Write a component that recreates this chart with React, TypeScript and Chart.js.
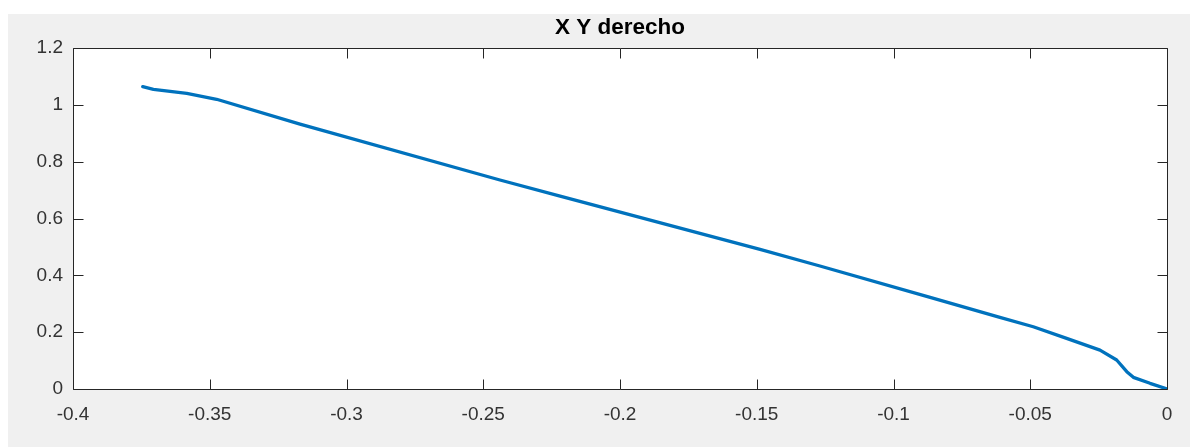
import React, { useEffect, useRef } from "react";
import { Chart, registerables } from "chart.js";

Chart.register(...registerables);

// ---- data ----
const xValues = [
  -0.3745, -0.3706, -0.3584, -0.3475, -0.317, -0.2439, -0.2219, -0.1488, -0.1269,
  -0.0866, -0.0611, -0.0489, -0.0367, -0.0245, -0.0184, -0.0147, -0.0123, -0.0062,
  -0.0007, 0,
];
const yValues = [
  1.064, 1.0547, 1.04, 1.0195, 0.932, 0.7355, 0.679, 0.4916, 0.4328,
  0.3227, 0.2523, 0.219, 0.178, 0.137, 0.102, 0.061, 0.041, 0.02,
  0.0025, 0,
];
const xTickValues = [-0.4, -0.35, -0.3, -0.25, -0.2, -0.15, -0.1, -0.05, 0];
const xTickLabels = ["-0.4", "-0.35", "-0.3", "-0.25", "-0.2", "-0.15", "-0.1", "-0.05", "0"];
const yTickValues = [0, 0.2, 0.4, 0.6, 0.8, 1, 1.2];
const yTickLabels = ["0", "0.2", "0.4", "0.6", "0.8", "1", "1.2"];
const chartTitle = "X Y derecho";

const FONT = "'Liberation Sans', Arial, Helvetica, sans-serif";
const AXIS_COLOR = "#262626";
const LABEL_COLOR = "#333333";
const LINE_COLOR = "#0072BD";
const TICK_LEN = 10;

const matlabAxes = {
  id: "matlabAxes",
  beforeDraw(chart: any) {
    const { ctx, chartArea } = chart;
    const { left, top, right, bottom } = chartArea;
    ctx.save();
    ctx.fillStyle = "#ffffff";
    ctx.fillRect(left, top, right - left, bottom - top);
    ctx.restore();
  },
  beforeDatasetsDraw(chart: any) {
    const { ctx, chartArea, scales } = chart;
    const l = Math.round(chartArea.left) + 0.5;
    const r = Math.round(chartArea.right) + 0.5;
    const t = Math.round(chartArea.top) + 0.5;
    const b = Math.round(chartArea.bottom) + 0.5;
    ctx.save();
    ctx.strokeStyle = AXIS_COLOR;
    ctx.lineWidth = 1;
    ctx.beginPath();
    ctx.rect(l, t, r - l, b - t);
    for (const v of xTickValues) {
      const px = Math.round(scales.x.getPixelForValue(v)) + 0.5;
      ctx.moveTo(px, b);
      ctx.lineTo(px, b - TICK_LEN);
      ctx.moveTo(px, t);
      ctx.lineTo(px, t + TICK_LEN);
    }
    for (const v of yTickValues) {
      const py = Math.round(scales.y.getPixelForValue(v)) + 0.5;
      ctx.moveTo(l, py);
      ctx.lineTo(l + TICK_LEN, py);
      ctx.moveTo(r, py);
      ctx.lineTo(r - TICK_LEN, py);
    }
    ctx.stroke();
    ctx.restore();
  },
};

export default function App() {
  const canvasRef = useRef<HTMLCanvasElement | null>(null);

  useEffect(() => {
    document.documentElement.style.overflow = "hidden";
    document.body.style.overflow = "hidden";
    const canvas = canvasRef.current;
    if (!canvas) return;
    const points = xValues.map((x, i) => ({ x, y: yValues[i] }));
    const chart = new Chart(canvas, {
      type: "line",
      data: {
        datasets: [
          {
            data: points,
            borderColor: LINE_COLOR,
            backgroundColor: LINE_COLOR,
            borderWidth: 3.3,
            pointRadius: 0,
            tension: 0,
            borderJoinStyle: "round",
            borderCapStyle: "round",
            fill: false,
          },
        ],
      },
      options: {
        animation: false,
        responsive: false,
        devicePixelRatio: 1,
        layout: { padding: { left: 0, right: 31, top: 0, bottom: 0 } },
        plugins: {
          legend: { display: false },
          tooltip: { enabled: false },
          title: {
            display: true,
            text: chartTitle,
            fullSize: false,
            color: "#000000",
            font: { family: FONT, size: 22.5, weight: "bold" },
            padding: { top: 0.5, bottom: 6.5 },
          },
        },
        scales: {
          x: {
            type: "linear",
            min: -0.4,
            max: 0,
            grid: { display: false, drawTicks: false },
            border: { display: false },
            afterBuildTicks: (s: any) => {
              s.ticks = xTickValues.map((v) => ({ value: v }));
            },
            afterFit: (s: any) => {
              s.height = 58;
            },
            ticks: {
              autoSkip: false,
              maxRotation: 0,
              padding: 14,
              color: LABEL_COLOR,
              font: { family: FONT, size: 19 },
              callback: (_v: any, i: number) => xTickLabels[i],
            },
          },
          y: {
            type: "linear",
            min: 0,
            max: 1.2,
            grid: { display: false, drawTicks: false },
            border: { display: false },
            afterBuildTicks: (s: any) => {
              s.ticks = yTickValues.map((v) => ({ value: v }));
            },
            afterFit: (s: any) => {
              s.width = 65;
            },
            ticks: {
              autoSkip: false,
              padding: 10,
              color: LABEL_COLOR,
              font: { family: FONT, size: 19 },
              callback: (_v: any, i: number) => yTickLabels[i],
            },
          },
        },
      },
      plugins: [matlabAxes],
    } as any);
    return () => chart.destroy();
  }, []);

  return (
    <div
      style={{
        marginTop: 6,
        width: 1190,
        height: 433,
        background: "#f0f0f0",
      }}
    >
      <canvas
        ref={canvasRef}
        width={1190}
        height={433}
        style={{ display: "block", width: 1190, height: 433 }}
      />
    </div>
  );
}
